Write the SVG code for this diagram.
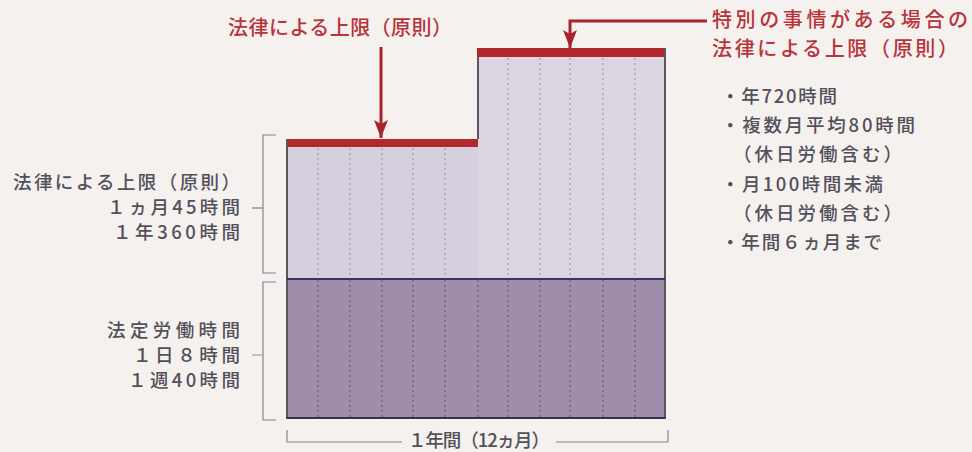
<svg xmlns="http://www.w3.org/2000/svg" width="972" height="452" viewBox="0 0 972 452">
<style>
  .jp { font-family: "Noto Sans CJK JP", "Noto Sans", sans-serif; font-weight: 500; }
  .red { fill: #b8333a; font-size: 20px; }
  .gray { fill: #54505a; font-size: 18.5px; }
  .dotU { stroke: #9a90a3; stroke-width: 1; stroke-dasharray: 2 3; }
  .dotL { stroke: #5e5069; stroke-width: 1; stroke-dasharray: 2 3; }
  .brk { fill: none; stroke: #8c8092; stroke-width: 1.2; }
  .arr { fill: none; stroke: #a8252b; stroke-width: 3; }
</style>
<defs>
  <marker id="ah" markerUnits="userSpaceOnUse" markerWidth="18" markerHeight="14" refX="18" refY="7" orient="auto" viewBox="0 0 18 14">
    <path d="M0,0 L18,7 L0,14 L4,7 Z" fill="#a8252b"/>
  </marker>
</defs>
<rect x="0" y="0" width="972" height="452" fill="#f4f1ef"/>

<g id="bar-base">
  <rect x="287" y="279" width="378" height="139" fill="#9f8dab"/>
</g>
<g id="bar-limit">
  <rect x="287" y="147" width="191" height="132" fill="#d6cfde"/>
  <rect x="287" y="139" width="191" height="8" fill="#b3282d"/>
</g>
<g id="bar-special">
  <rect x="478" y="57" width="187" height="222" fill="#dcd6e3"/>
  <rect x="477" y="48" width="189" height="9" fill="#b3282d"/>
</g>
<g id="grid">
  <path class="dotU" d="M318,148V279M350,148V279M382,148V279M413,148V279M445,148V279M508,58V279M540,58V279M570,58V279M603,58V279M635,58V279"/>
  <path class="dotL" d="M318,280V417M350,280V417M382,280V417M413,280V417M445,280V417M478,280V417M508,280V417M540,280V417M570,280V417M603,280V417M635,280V417"/>
  <path d="M287,139V418H665V48M478,57V139" fill="none" stroke="#5d5660" stroke-width="2"/>
  <line x1="287" y1="279" x2="665" y2="279" stroke="#3e3068" stroke-width="2"/>
  <line x1="287" y1="418" x2="665" y2="418" stroke="#3a2e48" stroke-width="2"/>
</g>

<g id="connectors">
  <line class="arr" x1="381" y1="47" x2="381" y2="138" marker-end="url(#ah)"/>
  <polyline class="arr" points="707,21 570,21 570,48" marker-end="url(#ah)"/>
  <path class="brk" d="M276,135H263V273H276"/>
  <line x1="252" y1="208" x2="263" y2="208" stroke="#c06060" stroke-width="1.2"/>
  <path class="brk" d="M276,282H263V420H276"/>
  <line x1="252" y1="355" x2="263" y2="355" stroke="#8fb090" stroke-width="1.2"/>
  <path class="brk" d="M287,430V442H402M556,442H668V430"/>
</g>

<g id="label-top">
  <text class="jp red" x="228" y="35" textLength="224" lengthAdjust="spacing">法律による上限（原則）</text>
</g>
<g id="label-special">
  <text class="jp red" x="712" y="27" textLength="256" lengthAdjust="spacing">特別の事情がある場合の</text>
  <text class="jp red" x="712" y="56" textLength="246" lengthAdjust="spacing">法律による上限（原則）</text>
  <text class="jp gray" x="721" y="103" textLength="116" lengthAdjust="spacing">・年720時間</text>
  <text class="jp gray" x="721" y="132" textLength="194" lengthAdjust="spacing">・複数月平均80時間</text>
  <text class="jp gray" x="733" y="161" textLength="169" lengthAdjust="spacing">（休日労働含む）</text>
  <text class="jp gray" x="721" y="191" textLength="162" lengthAdjust="spacing">・月100時間未満</text>
  <text class="jp gray" x="733" y="220" textLength="169" lengthAdjust="spacing">（休日労働含む）</text>
  <text class="jp gray" x="721" y="249" textLength="161" lengthAdjust="spacing">・年間６ヵ月まで</text>
</g>
<g id="label-limit">
  <text class="jp gray" x="13" y="189" textLength="227" lengthAdjust="spacing">法律による上限（原則）</text>
  <text class="jp gray" x="107" y="214" textLength="133" lengthAdjust="spacing">１ヵ月45時間</text>
  <text class="jp gray" x="113" y="239" textLength="127" lengthAdjust="spacing">１年360時間</text>
</g>
<g id="label-base">
  <text class="jp gray" x="107" y="337" textLength="133" lengthAdjust="spacing">法定労働時間</text>
  <text class="jp gray" x="133" y="362" textLength="107" lengthAdjust="spacing">１日８時間</text>
  <text class="jp gray" x="128" y="387" textLength="112" lengthAdjust="spacing">１週40時間</text>
</g>
<g id="label-axis">
  <text class="jp gray" x="408" y="447" font-size="17" textLength="142" lengthAdjust="spacing">１年間（12ヵ月）</text>
</g>
</svg>
